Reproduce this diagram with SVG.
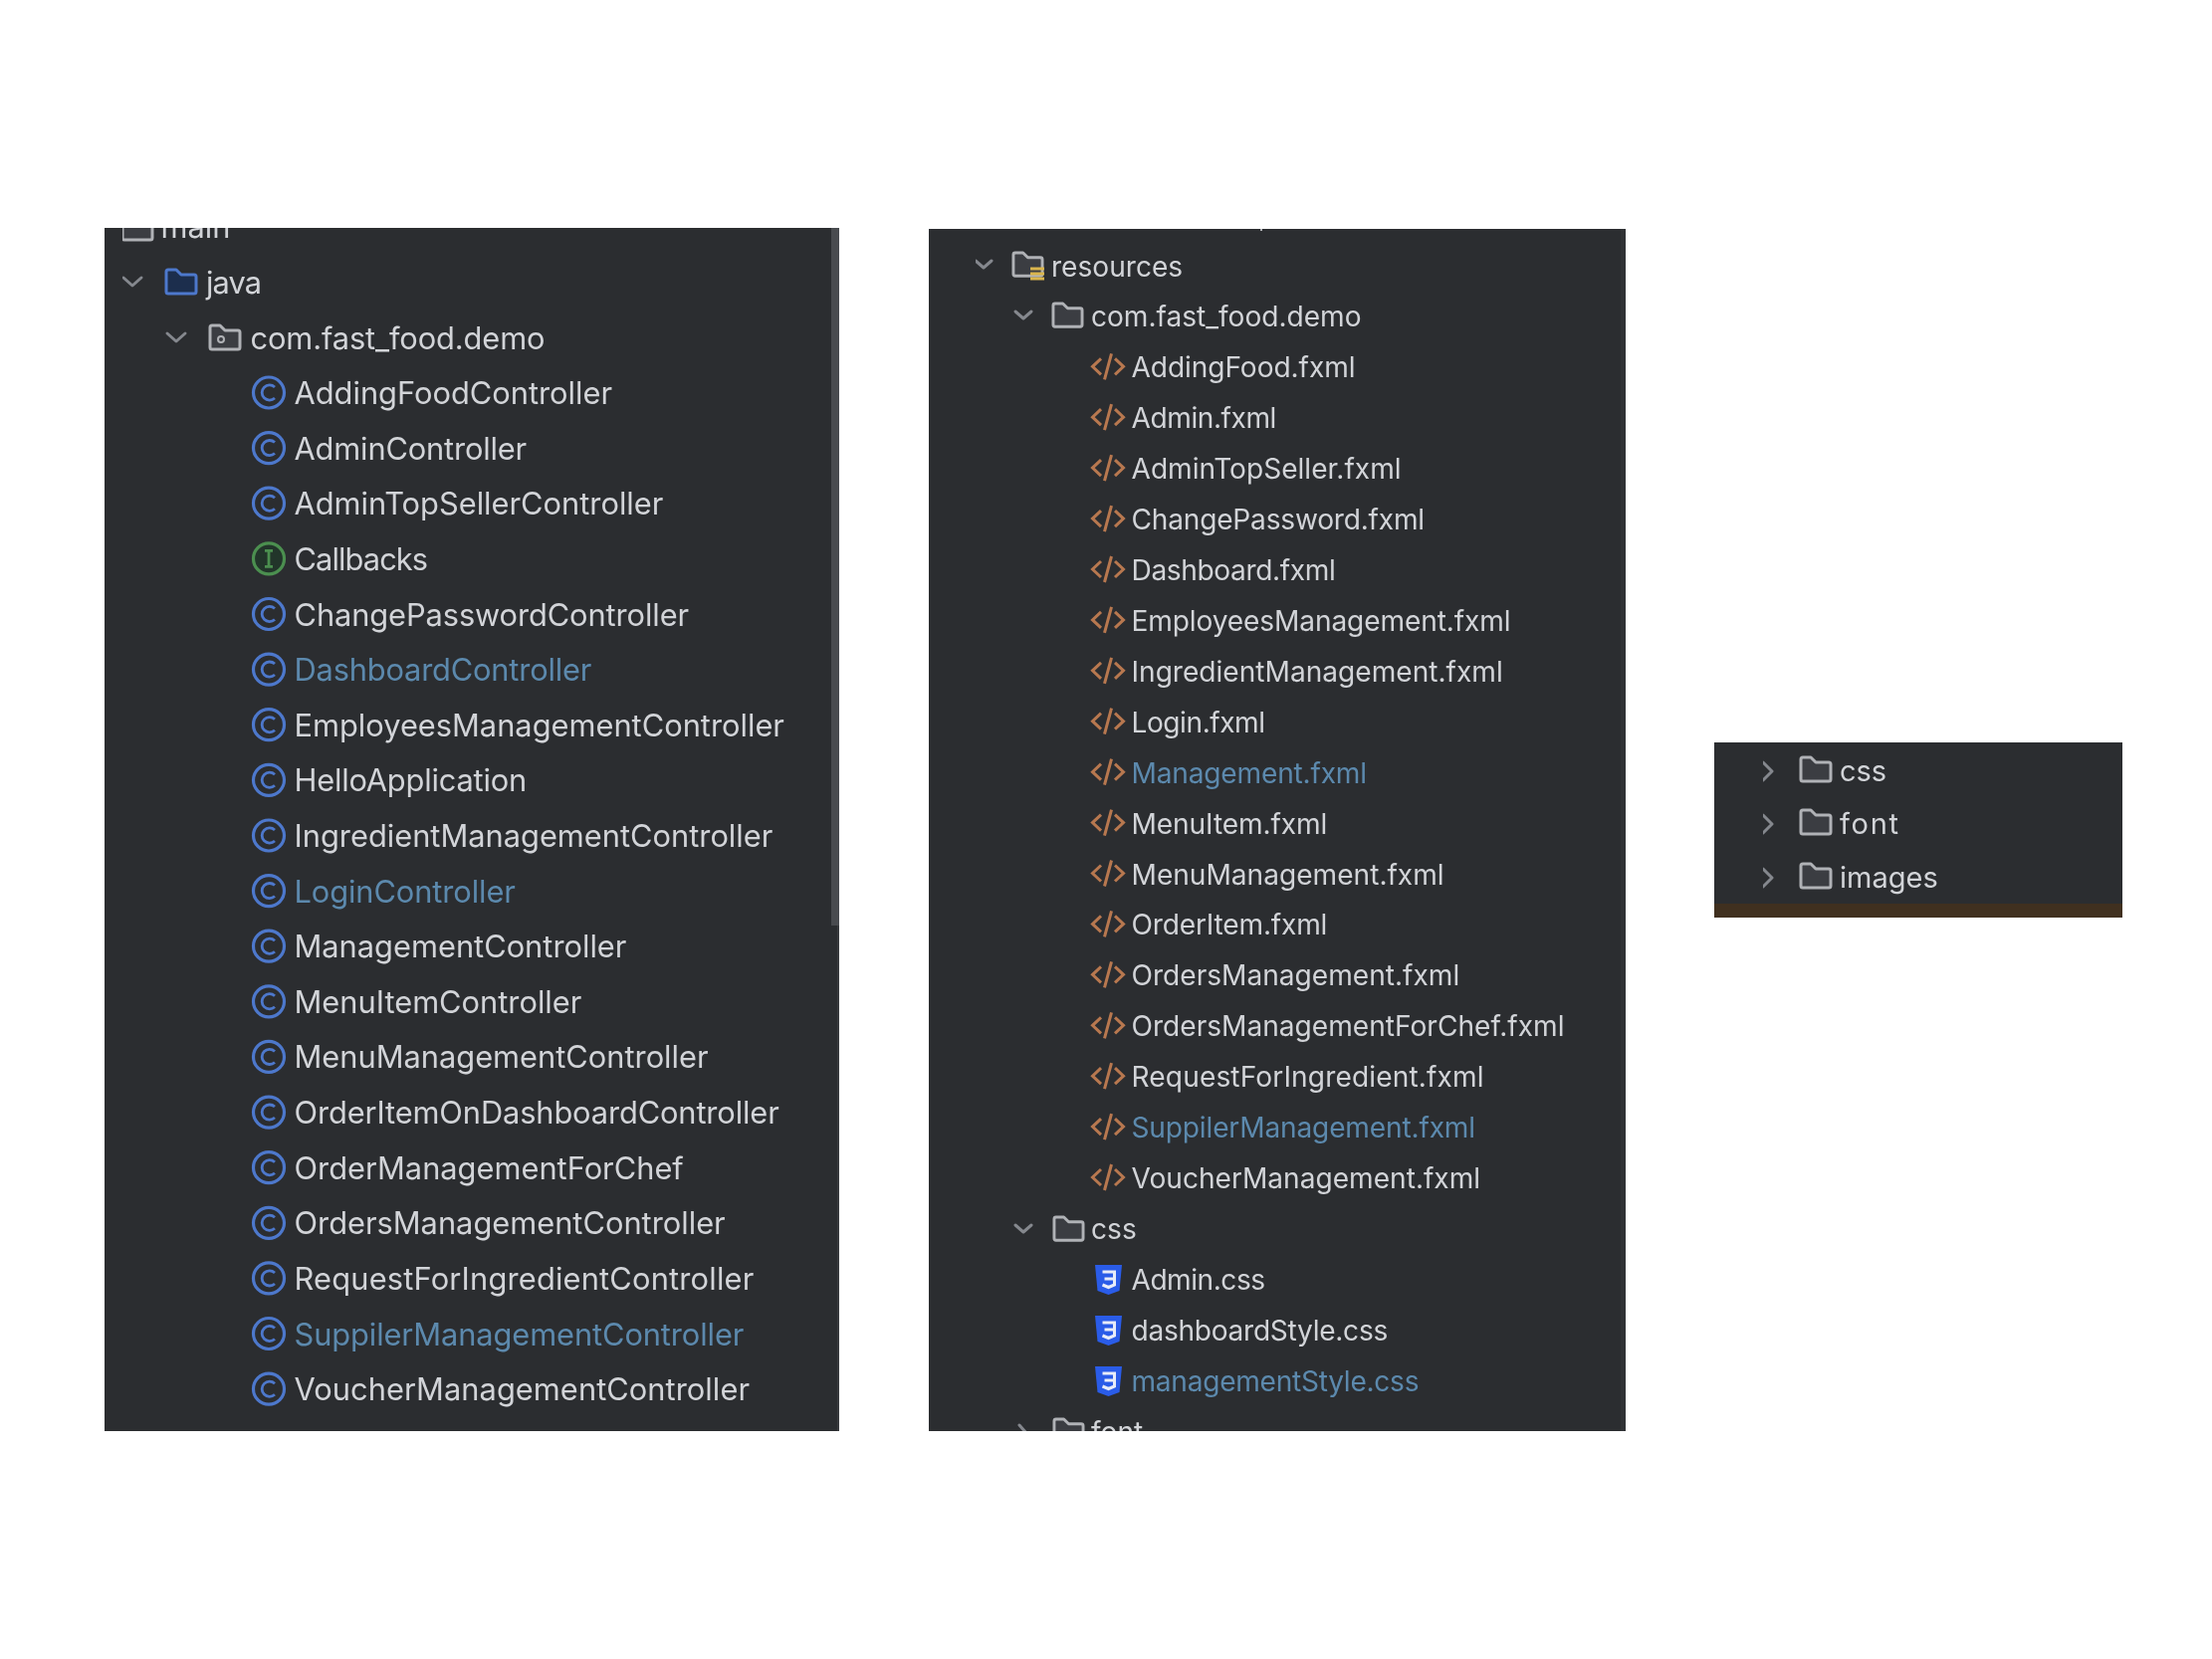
<svg xmlns="http://www.w3.org/2000/svg" width="2222" height="1667" viewBox="0 0 2222 1667">
<style>
text{font-family:Inter,"Liberation Sans",sans-serif;fill:#d2d4d8}
.a{font-size:30.8px}.b{font-size:28.1px}.c{font-size:29px}
text.m{fill:#5b89ad}
.chev{fill:none;stroke:#85888e;stroke-width:3;stroke-linecap:round;stroke-linejoin:round}
.fold{fill:#3b3d42;stroke:#b0b2b6;stroke-width:3;stroke-linejoin:round}
.foldb{fill:#1f2e4d;stroke:#4d78cc;stroke-width:3;stroke-linejoin:round}
.soft{filter:url(#soft)}
</style>
<defs>
<filter id="soft" x="0" y="0" width="100%" height="100%"><feGaussianBlur stdDeviation="0.55"/></filter>
<clipPath id="p1"><rect x="105" y="229" width="738" height="1209"/></clipPath>
<clipPath id="p2"><rect x="933" y="230" width="700" height="1208"/></clipPath>
<path id="folder" class="fold" d="M2 24V4a2 2 0 0 1 2-2h8l5 5h13a2 2 0 0 1 2 2v15a2 2 0 0 1-2 2H4a2 2 0 0 1-2-2z"/>
<path id="folderb" class="foldb" d="M2 24V4a2 2 0 0 1 2-2h8l5 5h13a2 2 0 0 1 2 2v15a2 2 0 0 1-2 2H4a2 2 0 0 1-2-2z"/>
<g id="cls" fill="none" stroke="#4d78cc"><circle r="15.5" stroke-width="3.2"/><path d="M6 -5.5A7.6 7.6 0 1 0 6 5.5" stroke-width="2.8"/></g>
<g id="ifc" fill="#24352a" stroke="#4c8f50"><circle r="15.5" stroke-width="3.2"/><path d="M-4 -8H4M0 -8V8M-4 8H4" stroke-width="2.8" fill="none"/></g>
<g id="xml" fill="none" stroke="#b87850" stroke-width="3"><path d="M-7 -8L-15.5 0L-7 8M7 -8L15.5 0L7 8M3.5 -13L-3.5 13"/></g>
<g id="css"><path d="M-13.5 -15H13.5L11 11L0 15L-11 11Z" fill="#2a5be8"/><path d="M-6 -8H6V5L0 7.5L-6 5M-4 -1H6" fill="none" stroke="#e8ecf8" stroke-width="3"/></g>
</defs>
<rect width="2222" height="1667" fill="#fff"/>
<g id="panel-java">
<rect x="105" y="229" width="738" height="1209" fill="#2b2d30"/>
<rect x="835" y="229" width="8" height="701" fill="#494b4f"/>
<rect x="841" y="930" width="2" height="508" fill="#37393c"/>
<g clip-path="url(#p1)"><g class="soft">
<g id="n-main"><use href="#folder" x="121" y="215"/><text class="a" x="161.5" y="239">main</text></g>
<g id="n-java"><path class="chev" d="M124 279l9 8 9-8"/><use href="#folderb" x="165" y="269"/><text class="a" x="207" y="295" textLength="56">java</text></g>
<g id="n-pkg"><path class="chev" d="M168 335l9 8 9-8"/><use href="#folder" x="209" y="325"/><circle cx="222" cy="341" r="3" fill="none" stroke="#b0b2b6" stroke-width="2"/><text class="a" x="251.5" y="350.5" textLength="296">com.fast_food.demo</text></g>
<g id="n-1"><use href="#cls" x="270" y="394.5"/><text class="a" x="295.5" y="406">AddingFoodController</text></g>
<g id="n-2"><use href="#cls" x="270" y="450.1"/><text class="a" x="295.5" y="461.6" textLength="233.7">AdminController</text></g>
<g id="n-3"><use href="#cls" x="270" y="505.7"/><text class="a" x="295.5" y="517.2">AdminTopSellerController</text></g>
<g id="n-4"><use href="#ifc" x="270" y="561.4"/><text class="a" x="295.5" y="572.9" textLength="134.6">Callbacks</text></g>
<g id="n-5"><use href="#cls" x="270" y="617"/><text class="a" x="295.5" y="628.5" textLength="396.6">ChangePasswordController</text></g>
<g id="n-6"><use href="#cls" x="270" y="672.6"/><text class="a m" x="295.5" y="684.1" textLength="298.9">DashboardController</text></g>
<g id="n-7"><use href="#cls" x="270" y="728.2"/><text class="a" x="295.5" y="739.7">EmployeesManagementController</text></g>
<g id="n-8"><use href="#cls" x="270" y="783.8"/><text class="a" x="295.5" y="795.3" textLength="233.7">HelloApplication</text></g>
<g id="n-9"><use href="#cls" x="270" y="839.5"/><text class="a" x="295.5" y="851">IngredientManagementController</text></g>
<g id="n-10"><use href="#cls" x="270" y="895.1"/><text class="a m" x="295.5" y="906.6" textLength="222.4">LoginController</text></g>
<g id="n-11"><use href="#cls" x="270" y="950.7"/><text class="a" x="295.5" y="962.2">ManagementController</text></g>
<g id="n-12"><use href="#cls" x="270" y="1006.3"/><text class="a" x="295.5" y="1017.8">MenuItemController</text></g>
<g id="n-13"><use href="#cls" x="270" y="1061.9"/><text class="a" x="295.5" y="1073.4">MenuManagementController</text></g>
<g id="n-14"><use href="#cls" x="270" y="1117.6"/><text class="a" x="295.5" y="1129.1" textLength="487.3">OrderItemOnDashboardController</text></g>
<g id="n-15"><use href="#cls" x="270" y="1173.2"/><text class="a" x="295.5" y="1184.7">OrderManagementForChef</text></g>
<g id="n-16"><use href="#cls" x="270" y="1228.8"/><text class="a" x="295.5" y="1240.3">OrdersManagementController</text></g>
<g id="n-17"><use href="#cls" x="270" y="1284.4"/><text class="a" x="295.5" y="1295.9" textLength="461.8">RequestForIngredientController</text></g>
<g id="n-18"><use href="#cls" x="270" y="1340"/><text class="a m" x="295.5" y="1351.5" textLength="451.9">SuppilerManagementController</text></g>
<g id="n-19"><use href="#cls" x="270" y="1395.7"/><text class="a" x="295.5" y="1407.2" textLength="457.5">VoucherManagementController</text></g>
</g></g></g>
<g id="panel-resources">
<rect x="933" y="230" width="700" height="1208" fill="#2b2d30"/>
<rect x="1628" y="230" width="5" height="1208" fill="#303235"/>
<path d="M1267 230v2" stroke="#b0b2b6" stroke-width="2"/>
<g clip-path="url(#p2)"><g class="soft">
<g id="r-res"><path class="chev" d="M980 262l8 7 8-7"/><use href="#folder" transform="translate(1016 252) scale(.97)"/><path d="M1035 270h14M1035 275h14M1035 280h14" stroke="#d9b54e" stroke-width="3"/><text class="b" x="1056" y="277.6">resources</text></g>
<g id="r-pkg"><path class="chev" d="M1020 313l8 7 8-7"/><use href="#folder" transform="translate(1056 303) scale(.97)"/><text class="b" x="1096" y="328.4" textLength="271.5">com.fast_food.demo</text></g>
<g id="r-1"><use href="#xml" x="1113" y="368.3"/><text class="b" x="1136.5" y="379.3" textLength="225">AddingFood.fxml</text></g>
<g id="r-2"><use href="#xml" x="1113" y="419.2"/><text class="b" x="1136.5" y="430.2" textLength="145.9">Admin.fxml</text></g>
<g id="r-3"><use href="#xml" x="1113" y="470.1"/><text class="b" x="1136.5" y="481.1">AdminTopSeller.fxml</text></g>
<g id="r-4"><use href="#xml" x="1113" y="521.1"/><text class="b" x="1136.5" y="532.1" textLength="294.6">ChangePassword.fxml</text></g>
<g id="r-5"><use href="#xml" x="1113" y="572"/><text class="b" x="1136.5" y="583" textLength="205.4">Dashboard.fxml</text></g>
<g id="r-6"><use href="#xml" x="1113" y="622.9"/><text class="b" x="1136.5" y="633.9" textLength="381">EmployeesManagement.fxml</text></g>
<g id="r-7"><use href="#xml" x="1113" y="673.8"/><text class="b" x="1136.5" y="684.8">IngredientManagement.fxml</text></g>
<g id="r-8"><use href="#xml" x="1113" y="724.7"/><text class="b" x="1136.5" y="735.7" textLength="134.6">Login.fxml</text></g>
<g id="r-9"><use href="#xml" x="1113" y="775.7"/><text class="b m" x="1136.5" y="786.7" textLength="236.6">Management.fxml</text></g>
<g id="r-10"><use href="#xml" x="1113" y="826.6"/><text class="b" x="1136.5" y="837.6" textLength="196.9">MenuItem.fxml</text></g>
<g id="r-11"><use href="#xml" x="1113" y="877.5"/><text class="b" x="1136.5" y="888.5">MenuManagement.fxml</text></g>
<g id="r-12"><use href="#xml" x="1113" y="928.4"/><text class="b" x="1136.5" y="939.4" textLength="196.9">OrderItem.fxml</text></g>
<g id="r-13"><use href="#xml" x="1113" y="979.3"/><text class="b" x="1136.5" y="990.3">OrdersManagement.fxml</text></g>
<g id="r-14"><use href="#xml" x="1113" y="1030.3"/><text class="b" x="1136.5" y="1041.3">OrdersManagementForChef.fxml</text></g>
<g id="r-15"><use href="#xml" x="1113" y="1081.2"/><text class="b" x="1136.5" y="1092.2" textLength="354">RequestForIngredient.fxml</text></g>
<g id="r-16"><use href="#xml" x="1113" y="1132.1"/><text class="b m" x="1136.5" y="1143.1" textLength="345.6">SuppilerManagement.fxml</text></g>
<g id="r-17"><use href="#xml" x="1113" y="1183"/><text class="b" x="1136.5" y="1194">VoucherManagement.fxml</text></g>
<g id="r-css"><path class="chev" d="M1020 1231l8 7 8-7"/><use href="#folder" transform="translate(1057 1221) scale(.97)"/><text class="b" x="1096" y="1245">css</text></g>
<g id="r-c1"><use href="#css" x="1113.5" y="1286"/><text class="b" x="1136.5" y="1295.9" textLength="134.6">Admin.css</text></g>
<g id="r-c2"><use href="#css" x="1113.5" y="1337"/><text class="b" x="1136.5" y="1346.8" textLength="257.8">dashboardStyle.css</text></g>
<g id="r-c3"><use href="#css" x="1113.5" y="1388"/><text class="b m" x="1136.5" y="1397.7" textLength="289">managementStyle.css</text></g>
<g id="r-font"><path class="chev" d="M1024 1432l7 8-7 8"/><use href="#folder" transform="translate(1057 1424) scale(.97)"/><text class="b" x="1096" y="1448.6">font</text></g>
</g></g></g>
<g id="panel-folders">
<rect x="1722" y="746" width="410" height="176" fill="#2b2d30"/>
<rect x="1722" y="908" width="410" height="14" fill="#40301f"/>
<g class="soft">
<g id="f-css"><path class="chev" d="M1771 766l9 9-9 9"/><use href="#folder" x="1807" y="759"/><text class="c" x="1848" y="784.5">css</text></g>
<g id="f-font"><path class="chev" d="M1771 819l9 9-9 9"/><use href="#folder" x="1807" y="812"/><text class="c" x="1848" y="838" textLength="59">font</text></g>
<g id="f-images"><path class="chev" d="M1771 873l9 9-9 9"/><use href="#folder" x="1807" y="866"/><text class="c" x="1848" y="892">images</text></g>
</g></g>
<g id="connectors"/>
</svg>
